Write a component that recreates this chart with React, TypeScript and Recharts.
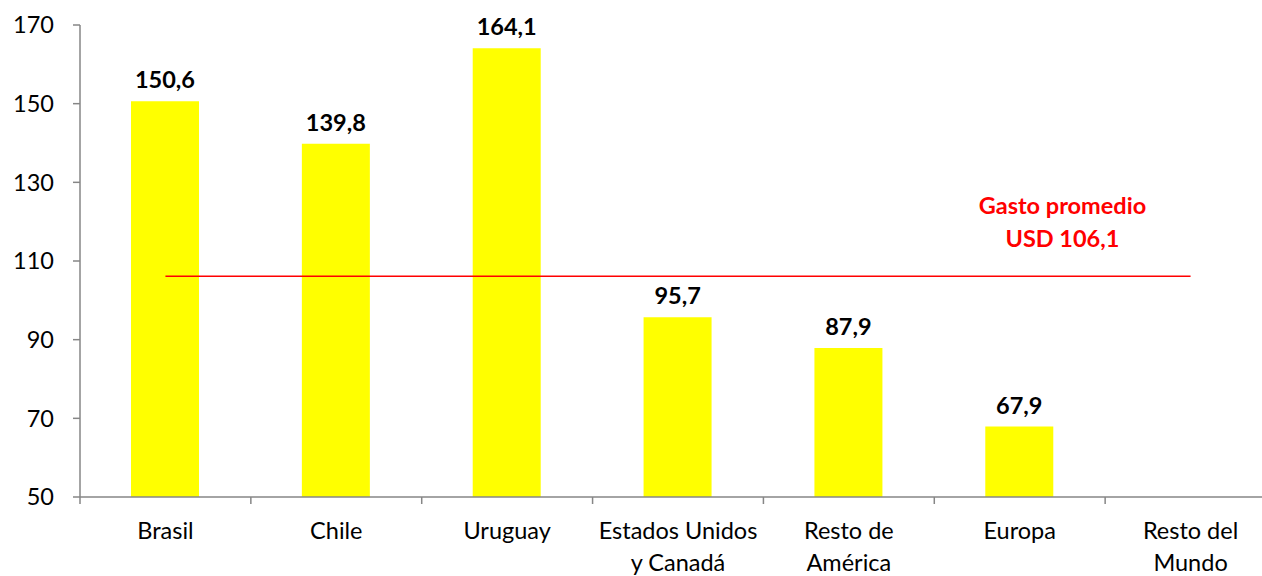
import React from 'react';
import { ComposedChart, Bar, XAxis, YAxis, ReferenceLine, LabelList } from 'recharts';

const categories = ['Brasil', 'Chile', 'Uruguay', 'Estados Unidos\ny Canadá', 'Resto de\nAmérica', 'Europa', 'Resto del\nMundo'];
const gasto = [150.6, 139.8, 164.1, 95.7, 87.9, 67.9, 49.5];
const yTicks = [50, 70, 90, 110, 130, 150, 170];
const promedio = 106.1;
const promedioLines = ['Gasto promedio', 'USD 106,1'];

const data = categories.map((c, i) => ({ name: c, gasto: gasto[i] }));

const AXIS = '#868686';
const FONT = 'Lato, "Open Sans", sans-serif';
const FS = 23.5;

const CategoryTick = (props: any) => {
  const { x, y, payload } = props;
  const lines = String(payload.value).split('\n');
  const half = payload.offset ?? 0;
  return (
    <g>
      <line x1={x - half} x2={x - half} y1={y} y2={y + 7} stroke={AXIS} strokeWidth={1.5} />
      <text x={x} y={y} textAnchor="middle" fontFamily={FONT} fontSize={FS} fill="#000">
        {lines.map((l, i) => (
          <tspan key={i} x={x} dy={i === 0 ? 42 : 32}>{l}</tspan>
        ))}
      </text>
    </g>
  );
};

const AvgLabel = (props: any) => {
  const vb = props.viewBox || {};
  const cx = vb.x + vb.width * 0.875;
  const y = vb.y;
  return (
    <g>
      <text x={cx} y={y - 62} textAnchor="middle" fontFamily={FONT} fontWeight="bold" fontSize={FS} fill="#FF0000">{promedioLines[0]}</text>
      <text x={cx} y={y - 29} textAnchor="middle" fontFamily={FONT} fontWeight="bold" fontSize={FS} fill="#FF0000">{promedioLines[1]}</text>
    </g>
  );
};

const fmt = (v: any) => (Number(v) >= 50 ? Number(v).toFixed(1).replace('.', ',') : '');

export default function App() {
  return (
    <div style={{ position: 'absolute', left: 0, top: 0, width: 1262, height: 576, overflow: 'hidden', background: '#fff' }}>
      <ComposedChart width={1280} height={576} data={data} margin={{ top: 25, right: 4, bottom: 0, left: 0 }}>
        <XAxis
          dataKey="name"
          height={79}
          interval={0}
          tickLine={false}
          tickSize={0}
          tickMargin={0}
          axisLine={{ stroke: AXIS, strokeWidth: 1.5 }}
          tick={<CategoryTick />}
        />
        <YAxis
          width={80}
          domain={[50, 170]}
          ticks={yTicks}
          allowDataOverflow
          tickSize={7}
          tickMargin={19}
          axisLine={{ stroke: AXIS, strokeWidth: 1.5 }}
          tickLine={{ stroke: AXIS, strokeWidth: 1.5 }}
          tick={{ fill: '#000', fontSize: FS, fontFamily: FONT }}
        />
        <Bar dataKey="gasto" fill="#FFFF00" barSize={68} isAnimationActive={false}>
          <LabelList dataKey="gasto" position="top" offset={13} formatter={fmt} fill="#000" fontSize={FS} fontWeight="bold" fontFamily={FONT} />
        </Bar>
        <ReferenceLine
          segment={[{ x: categories[0], y: promedio }, { x: categories[categories.length - 1], y: promedio }]}
          stroke="#FF0000"
          strokeWidth={1.5}
          ifOverflow="visible"
          label={<AvgLabel />}
        />
      </ComposedChart>
    </div>
  );
}
